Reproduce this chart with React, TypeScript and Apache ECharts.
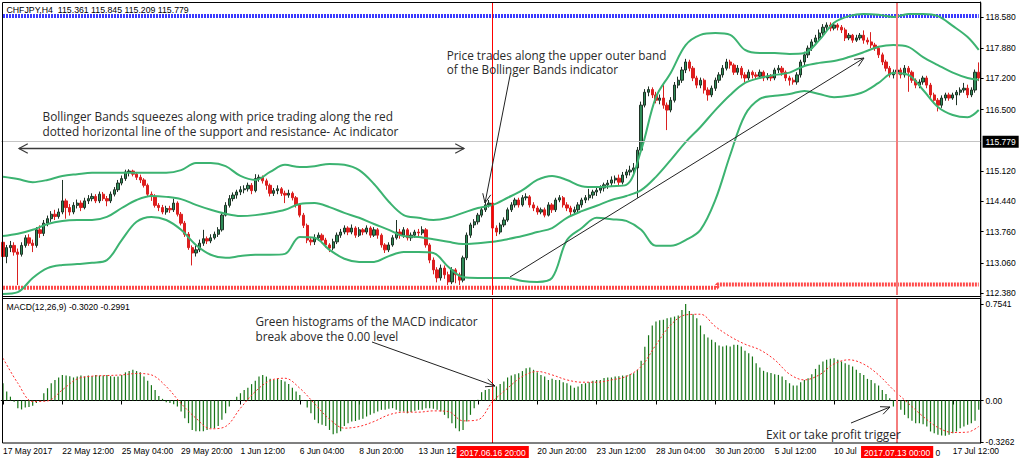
import React, { useEffect, useRef } from 'react';
import * as echarts from 'echarts';

// ---------------- DATA ----------------
// H4 candles: [open, close, low, high]
const ohlc: number[][] = [
  [113.52,113.20,113.12,113.60],[113.20,113.40,113.05,113.46],[113.40,113.45,113.30,113.55],[113.45,113.30,113.22,113.52],
  [113.30,113.25,112.56,113.38],[113.25,113.45,113.20,113.52],[113.45,113.62,113.40,113.68],[113.62,113.50,113.44,113.70],
  [113.50,113.45,113.30,113.58],[113.45,113.80,113.40,113.86],[113.80,113.72,113.62,113.90],[113.72,113.95,113.66,114.02],
  [113.95,114.05,113.88,114.12],[114.05,114.15,113.98,114.22],[114.15,114.10,114.02,114.25],[114.10,114.20,114.05,114.28],
  [114.20,114.45,114.15,114.92],[114.45,114.30,114.05,114.50],[114.30,114.20,114.12,114.38],[114.20,114.35,114.15,114.42],
  [114.35,114.40,114.28,114.48],[114.40,114.30,114.22,114.46],[114.30,114.45,114.26,114.52],[114.45,114.50,114.38,114.58],
  [114.50,114.55,114.44,114.62],[114.55,114.45,114.40,114.60],[114.45,114.60,114.40,114.66],[114.60,114.50,114.45,114.65],
  [114.50,114.45,114.33,114.56],[114.45,114.60,114.40,114.66],[114.60,114.70,114.55,114.76],[114.70,114.85,114.65,114.92],
  [114.85,114.95,114.80,115.02],[114.95,115.10,114.90,115.15],[115.10,115.12,115.00,115.16],[115.12,115.05,115.00,115.15],
  [115.05,114.98,114.92,115.10],[114.98,114.92,114.85,115.04],[114.92,114.80,114.75,114.96],[114.80,114.60,114.55,114.84],
  [114.60,114.55,114.45,114.66],[114.55,114.35,114.30,114.60],[114.35,114.30,114.22,114.40],[114.30,114.20,114.15,114.36],
  [114.20,114.28,114.14,114.34],[114.28,114.25,114.18,114.34],[114.25,114.40,114.20,114.50],[114.40,114.15,114.10,114.44],
  [114.15,113.95,113.90,114.20],[113.95,113.70,113.64,114.00],[113.70,113.40,113.35,113.75],[113.40,113.28,113.00,113.45],
  [113.28,113.35,113.20,113.45],[113.35,113.50,113.30,113.58],[113.50,113.60,113.44,113.80],[113.60,113.55,113.48,113.65],
  [113.55,113.62,113.50,113.70],[113.62,113.70,113.58,113.76],[113.70,113.80,113.64,113.86],[113.80,114.13,113.76,114.18],
  [114.13,114.35,114.10,114.42],[114.35,114.50,114.30,114.58],[114.50,114.58,114.44,114.64],[114.58,114.65,114.50,114.70],
  [114.65,114.70,114.58,114.78],[114.70,114.72,114.62,114.80],[114.72,114.80,114.66,114.86],[114.80,114.68,114.60,114.85],
  [114.68,114.95,114.64,115.05],[114.95,114.98,114.88,115.04],[114.98,114.90,114.84,115.02],[114.90,114.80,114.70,114.95],
  [114.80,114.62,114.55,114.84],[114.62,114.68,114.56,114.74],[114.68,114.72,114.60,114.80],[114.72,114.62,114.56,114.76],
  [114.62,114.58,114.40,114.68],[114.58,114.62,114.52,114.70],[114.62,114.52,114.46,114.66],[114.52,114.36,114.30,114.56],
  [114.36,114.13,114.08,114.40],[114.13,113.90,113.84,114.18],[113.90,113.57,113.50,113.94],[113.57,113.53,113.45,113.64],
  [113.53,113.62,113.46,113.70],[113.62,113.68,113.55,113.74],[113.68,113.57,113.50,113.72],[113.57,113.46,113.40,113.62],
  [113.46,113.39,113.30,113.50],[113.39,113.53,113.34,113.60],[113.53,113.68,113.48,113.74],[113.68,113.75,113.62,113.82],
  [113.75,113.84,113.70,113.90],[113.84,113.75,113.68,113.88],[113.75,113.84,113.70,113.92],[113.84,113.68,113.62,113.88],
  [113.68,113.80,113.64,113.86],[113.80,113.75,113.68,113.84],[113.75,113.84,113.70,113.90],[113.84,113.68,113.62,113.88],
  [113.68,113.80,113.64,113.86],[113.80,113.68,113.60,113.84],[113.68,113.46,113.40,113.72],[113.46,113.35,113.28,113.50],
  [113.35,113.46,113.30,113.52],[113.46,113.62,113.42,113.68],[113.62,113.75,113.58,114.02],[113.75,113.68,113.60,113.82],
  [113.68,113.80,113.62,113.86],[113.80,113.62,113.56,113.84],[113.62,113.68,113.55,113.74],[113.68,113.75,113.62,113.80],
  [113.75,113.73,113.66,113.82],[113.73,113.80,113.68,113.88],[113.80,113.46,113.40,113.84],[113.46,113.12,113.05,113.50],
  [113.12,112.90,112.80,113.18],[112.90,112.72,112.62,112.96],[112.72,112.94,112.66,113.02],[112.94,112.79,112.70,113.00],
  [112.79,112.63,112.56,112.86],[112.63,112.90,112.58,112.96],[112.90,112.79,112.60,112.94],[112.79,112.67,112.56,112.84],
  [112.67,113.17,112.62,113.22],[113.17,113.68,113.12,113.74],[113.68,113.91,113.62,113.96],[113.91,113.98,113.84,114.04],
  [113.98,114.13,113.92,114.18],[114.13,114.25,114.08,114.30],[114.25,114.36,114.20,114.42],[114.36,114.40,114.30,114.47],
  [114.40,113.84,113.78,114.44],[113.84,113.75,113.66,113.90],[113.75,113.91,113.70,113.96],[113.91,114.02,113.86,114.08],
  [114.02,114.25,113.98,114.30],[114.25,114.36,114.20,114.42],[114.36,114.47,114.30,114.52],[114.47,114.36,114.30,114.52],
  [114.36,114.52,114.32,114.58],[114.52,114.54,114.46,114.62],[114.54,114.36,114.30,114.58],[114.36,114.29,114.22,114.42],
  [114.29,114.20,114.14,114.34],[114.20,114.25,114.15,114.30],[114.25,114.13,114.08,114.30],[114.13,114.36,114.10,114.42],
  [114.36,114.25,114.18,114.40],[114.25,114.47,114.20,114.52],[114.47,114.52,114.42,114.58],[114.52,114.36,114.30,114.56],
  [114.36,114.29,114.22,114.42],[114.29,114.20,114.12,114.34],[114.20,114.25,114.14,114.32],[114.25,114.36,114.20,114.42],
  [114.36,114.47,114.30,114.52],[114.47,114.52,114.40,114.58],[114.52,114.58,114.46,114.72],[114.58,114.65,114.50,114.70],
  [114.65,114.69,114.56,114.76],[114.69,114.74,114.62,114.80],[114.74,114.81,114.66,114.86],[114.81,114.85,114.72,114.92],
  [114.85,114.92,114.78,115.00],[114.92,114.96,114.84,115.02],[114.96,114.87,114.80,115.04],[114.87,115.03,114.82,115.10],
  [115.03,115.10,114.96,115.16],[115.10,115.14,115.02,115.24],[115.14,115.19,115.06,115.30],[115.19,115.59,114.52,115.66],
  [115.59,116.60,115.52,116.68],[116.60,116.89,116.55,116.96],[116.89,116.95,116.80,117.02],[116.95,116.83,116.76,117.00],
  [116.83,116.71,116.64,116.90],[116.71,116.76,116.62,116.84],[116.76,116.60,116.52,117.05],[116.60,116.49,116.04,116.66],
  [116.49,116.71,116.44,116.78],[116.71,117.05,116.66,117.12],[117.05,117.16,116.98,117.24],[117.16,117.39,117.10,117.46],
  [117.39,117.57,117.32,117.64],[117.57,117.43,117.36,117.62],[117.43,117.21,117.14,117.48],[117.21,117.05,116.98,117.26],
  [117.05,117.16,116.98,117.22],[117.16,116.94,116.86,117.20],[116.94,116.83,116.70,117.00],[116.83,116.98,116.78,117.04],
  [116.98,117.16,116.92,117.22],[117.16,117.28,117.10,117.34],[117.28,117.43,117.22,117.50],[117.43,117.57,117.38,117.64],
  [117.57,117.50,117.42,117.62],[117.50,117.34,117.28,117.54],[117.34,117.43,117.28,117.50],[117.43,117.28,117.20,117.48],
  [117.28,117.21,117.12,117.34],[117.21,117.34,117.16,117.40],[117.34,117.28,117.20,117.38],[117.28,117.25,117.18,117.34],
  [117.25,117.34,117.20,117.40],[117.34,117.21,117.14,117.38],[117.21,117.25,117.16,117.32],[117.25,117.21,117.14,117.30],
  [117.21,117.39,117.16,117.44],[117.39,117.43,117.32,117.50],[117.43,117.34,117.26,117.48],[117.34,117.21,117.14,117.38],
  [117.21,117.16,117.04,117.26],[117.16,117.12,117.06,117.22],[117.12,117.28,117.06,117.34],[117.28,117.57,117.22,117.62],
  [117.57,117.73,117.50,117.80],[117.73,117.88,117.66,117.94],[117.88,118.02,117.82,118.08],[118.02,118.11,117.96,118.18],
  [118.11,118.22,118.04,118.30],[118.22,118.35,118.16,118.42],[118.35,118.40,118.28,118.46],[118.40,118.33,118.26,118.46],
  [118.33,118.40,118.28,118.46],[118.40,118.35,118.28,118.44],[118.35,118.29,118.22,118.40],[118.29,118.11,118.04,118.34],
  [118.11,118.17,118.06,118.22],[118.17,118.06,118.00,118.20],[118.06,118.11,118.02,118.18],[118.11,118.17,118.06,118.22],
  [118.17,118.06,117.98,118.28],[118.06,118.02,117.96,118.12],[118.02,117.95,117.88,118.24],[117.95,117.88,117.82,118.00],
  [117.88,117.73,117.66,117.92],[117.73,117.57,117.50,117.78],[117.57,117.43,117.36,117.62],[117.43,117.28,117.22,117.48],
  [117.28,117.34,117.20,117.40],[117.34,117.39,117.26,117.44],[117.39,117.28,117.20,117.44],[117.28,117.43,117.22,117.50],
  [117.43,117.34,116.90,117.48],[117.34,117.16,117.10,117.38],[117.16,117.05,116.98,117.20],[117.05,117.12,116.98,117.18],
  [117.12,117.21,117.06,117.26],[117.21,117.05,116.98,117.26],[117.05,116.83,116.76,117.10],[116.83,116.71,116.64,116.88],
  [116.71,116.60,116.46,116.76],[116.60,116.76,116.54,116.82],[116.76,116.83,116.70,116.88],[116.83,116.76,116.70,116.88],
  [116.76,116.83,116.72,116.88],[116.83,116.89,116.60,116.94],[116.89,116.94,116.82,117.00],[116.94,116.98,116.88,117.10],
  [116.98,116.83,116.76,117.06],[116.83,116.94,116.78,117.00],[116.94,117.34,116.88,117.40],[117.34,117.21,117.14,117.56],
];

// Bollinger Bands (20,2) read at every 4th bar (last at 263)
const bandIdx: number[] = [0,4,8,12,16,20,24,28,32,36,40,44,48,52,56,60,64,68,72,76,80,84,88,92,96,100,104,108,112,116,120,124,128,132,136,140,144,148,152,156,160,164,168,172,176,180,184,188,192,196,200,204,208,212,216,220,224,228,232,236,240,244,248,252,256,260,263];
const upperBand: number[] = [114.99,114.94,114.87,114.92,115.01,115.05,115.08,115.08,115.08,115.08,115.08,115.08,115.14,115.30,115.30,115.23,115.01,114.92,115.10,115.26,115.21,115.23,115.28,115.26,115.14,114.83,114.43,114.13,114.07,114.02,114.07,114.18,114.29,114.36,114.52,114.69,114.92,115.01,114.92,114.78,114.76,114.78,114.81,115.59,116.78,117.33,117.95,118.18,118.22,118.18,117.84,117.77,117.77,117.75,117.77,118.06,118.45,118.60,118.65,118.63,118.58,118.65,118.65,118.60,118.38,118.13,117.84];
const middleBand: number[] = [113.66,113.71,113.80,113.93,114.00,114.02,114.02,114.09,114.29,114.47,114.56,114.54,114.49,114.36,114.25,114.16,114.11,114.13,114.18,114.25,114.38,114.40,114.31,114.18,114.07,113.93,113.80,113.66,113.64,113.59,113.53,113.48,113.50,113.53,113.59,113.66,113.75,113.84,114.07,114.22,114.34,114.47,114.56,114.69,114.99,115.37,115.77,116.11,116.49,116.83,117.10,117.21,117.28,117.33,117.48,117.55,117.59,117.68,117.79,117.91,117.95,117.91,117.68,117.50,117.33,117.21,117.17];
const lowerBand: number[] = [112.36,112.40,112.72,112.94,113.01,113.03,113.06,113.12,113.57,113.98,114.09,114.02,113.80,113.46,113.24,113.17,113.21,113.24,113.24,113.26,113.64,113.62,113.35,113.15,113.08,113.08,113.21,113.30,113.30,113.28,112.97,112.74,112.72,112.72,112.72,112.65,112.63,112.72,113.57,113.84,114.07,114.04,114.00,113.80,113.44,113.44,113.57,113.80,114.47,115.48,116.38,116.74,116.81,116.85,116.92,116.85,116.78,116.81,116.90,117.10,117.32,117.28,116.94,116.56,116.38,116.33,116.49];

// MACD(12,26,9) main (histogram), one value per bar
const macdMain: number[] = [
  0.135,0.07,0.03,-0.01,-0.06,-0.07,-0.055,-0.05,-0.04,-0.02,
  0.003,0.057,0.096,0.135,0.16,0.18,0.2,0.195,0.19,0.18,
  0.187,0.195,0.187,0.195,0.19,0.2,0.195,0.195,0.2,0.19,
  0.185,0.187,0.2,0.22,0.23,0.24,0.23,0.22,0.187,0.154,
  0.12,0.083,0.036,0.013,-0.013,-0.02,-0.03,-0.047,-0.086,-0.138,
  -0.177,-0.23,-0.24,-0.24,-0.24,-0.23,-0.216,-0.216,-0.2,-0.15,
  -0.1,-0.047,0.003,0.03,0.057,0.083,0.1,0.128,0.154,0.187,
  0.2,0.187,0.17,0.16,0.17,0.16,0.148,0.128,0.1,0.07,
  0.044,0.003,-0.055,-0.1,-0.15,-0.177,-0.19,-0.2,-0.23,-0.263,
  -0.255,-0.24,
  -0.2,-0.177,-0.164,-0.16,-0.15,-0.143,-0.125,-0.112,-0.1,-0.086,
  -0.073,-0.073,-0.065,-0.06,-0.073,-0.086,-0.086,-0.1,-0.09,-0.08,
  -0.073,-0.073,-0.06,-0.06,-0.065,-0.073,-0.086,-0.112,-0.138,-0.177,
  -0.216,-0.24,-0.23,-0.164,-0.112,-0.06,0.005,0.065,0.083,0.09,
  0.11,0.11,0.128,0.148,0.18,0.195,0.206,0.213,0.23,0.253,
  0.258,0.24,0.22,0.2,0.187,0.16,0.17,0.16,0.16,0.143,
  0.135,0.117,0.1,0.11,0.128,0.135,0.143,0.154,0.16,0.16,
  0.175,0.18,0.18,0.187,0.19,0.195,0.195,0.206,0.213,0.24,
  0.31,0.42,0.51,0.586,0.617,0.628,0.63,0.643,0.648,0.656,
  0.664,
  0.708,0.754,0.70,0.674,0.643,0.586,0.518,0.492,0.474,0.456,
  0.43,0.422,0.43,0.422,0.435,0.435,0.422,0.388,0.37,0.344,
  0.292,0.258,0.232,0.221,0.214,0.206,0.2,0.188,0.161,0.135,
  0.117,0.117,0.143,0.161,0.174,0.206,0.247,0.279,0.305,0.318,
  0.326,0.331,0.318,0.305,0.292,0.279,0.266,0.24,0.214,0.2,
  0.169,0.161,0.135,0.117,0.083,0.05,0.018,-0.047,-0.06,-0.073,
  -0.112,-0.138,-0.159,-0.177,-0.177,-0.185,-0.203,-0.242,-0.255,-0.268,
  -0.273,-0.276,-0.268,-0.255,-0.242,-0.216,-0.203,-0.19,-0.177,-0.159,
  -0.073,
];
// MACD signal line read at the same sample bars as the bands
const macdSignal: number[] = [0.331,0.135,-0.008,-0.003,0.083,0.169,0.19,0.195,0.2,0.211,0.2,0.109,-0.023,-0.138,-0.221,-0.203,-0.06,0.07,0.156,0.174,0.096,-0.026,-0.146,-0.216,-0.203,-0.164,-0.112,-0.091,-0.091,-0.081,-0.086,-0.159,-0.151,-0.008,0.096,0.188,0.227,0.2,0.161,0.143,0.143,0.161,0.188,0.265,0.435,0.591,0.669,0.674,0.578,0.5,0.44,0.396,0.318,0.206,0.161,0.2,0.286,0.318,0.284,0.2,0.083,-0.021,-0.125,-0.211,-0.25,-0.247,-0.203];

// Support / resistance (Ac indicator) levels: [barIndex, price]
const resistanceLevel: number[][] = [[0, 118.60], [263, 118.60]];
const supportLevel: number[][] = [[0, 112.50], [192, 112.50], [193, 112.57], [263, 112.57]];
const currentPrice = 115.779;

// Axis tick labels
const priceTicks: number[] = [112.38, 113.06, 113.76, 114.44, 115.12, 116.5, 117.2, 117.88, 118.58];
const macdTicks: number[] = [-0.3262, 0, 0.7541];
const xTickLabels: string[] = ['17 May 2017','22 May 12:00','25 May 04:00','29 May 20:00','1 Jun 12:00','6 Jun 04:00','8 Jun 20:00','13 Jun 12:00','16 Jun 04:00','20 Jun 20:00','23 Jun 12:00','28 Jun 04:00','30 Jun 20:00','5 Jul 12:00','10 Jul 04:00','12 Jul 20:00','17 Jul 12:00'];
// visible part of the tick labels that sit partly behind the red time markers
const xTickVisible: Record<number, string> = { 7: '13 Jun 12', 8: '', 14: '10 Jul', 15: '' };
const xTickEvery = 16;
const eventBars = [
  { index: 132, label: '2017.06.16 20:00', color: '#ff0000', width: 1 },
  { index: 241, label: '2017.07.13 00:00', color: '#f47d7d', width: 2 },
];

// H4 bar time categories (weekdays only), starting 2017.05.17 20:00
const pad = (n: number) => (n < 10 ? '0' + n : '' + n);
const categories: string[] = [];
{
  let t = Date.UTC(2017, 4, 17, 20);
  while (categories.length < ohlc.length) {
    const d = new Date(t);
    const wd = d.getUTCDay();
    if (wd !== 0 && wd !== 6) {
      categories.push(`${d.getUTCFullYear()}.${pad(d.getUTCMonth() + 1)}.${pad(d.getUTCDate())} ${pad(d.getUTCHours())}:00`);
    }
    t += 4 * 3600 * 1000;
  }
}

// ---------------- ANNOTATIONS (layout) ----------------
const ANNO_FONT = '"Open Sans", "Liberation Sans", sans-serif';
const annoLines = [
  { text: 'Bollinger Bands squeezes along with price trading along the red', x: 42.5, base: 120.7, w: 351 },
  { text: 'dotted horizontal line of the support and resistance- Ac indicator', x: 42.5, base: 135.5, w: 356 },
  { text: 'Price trades along the upper outer band', x: 446.7, base: 59.2, w: 220 },
  { text: 'of the Bollinger Bands indicator', x: 446.7, base: 74, w: 171.5 },
  { text: 'Green histograms of the MACD indicator', x: 255.5, base: 325.7, w: 222.5 },
  { text: 'break above the 0.00 level', x: 255.5, base: 340.7, w: 143 },
  { text: 'Exit or take profit trigger', x: 766, base: 438.3, w: 135 },
];
const arrows = [
  { x1: 510.5, y1: 73, x2: 485, y2: 203 },
  { x1: 510, y1: 277, x2: 864, y2: 58 },
  { x1: 372, y1: 342, x2: 495, y2: 386 },
  { x1: 851, y1: 423, x2: 890, y2: 407 },
];

function measureScale(text: string, font: string, target: number) {
  const c = document.createElement('canvas').getContext('2d');
  if (!c) return 1;
  c.font = font;
  const w = c.measureText(text).width;
  return w > 0 ? target / w : 1;
}

function headPoints(tx: number, ty: number, fx: number, fy: number, len: number, spread: number) {
  const a = Math.atan2(fy - ty, fx - tx);
  return [
    [tx + len * Math.cos(a + spread), ty + len * Math.sin(a + spread)],
    [tx, ty],
    [tx + len * Math.cos(a - spread), ty + len * Math.sin(a - spread)],
  ];
}

export default function App() {
  const ref = useRef<HTMLDivElement>(null);

  useEffect(() => {
    document.body.style.margin = '0';
    if (!ref.current) return;
    const chart = echarts.init(ref.current, undefined, { renderer: 'svg' });

    const axisFont = '"Liberation Sans", Arial, sans-serif';
    const axisSize = 8.5;
    const gridLeft = 1.15;
    const gridWidth = 979.45;

    const graphic: any[] = [];
    // frame
    graphic.push({ type: 'rect', z: 50, silent: true, shape: { x: 2.5, y: 2.5, width: 978.3, height: 440.5 }, style: { fill: 'none', stroke: '#000', lineWidth: 1 } });
    graphic.push({ type: 'line', z: 50, silent: true, shape: { x1: 2.5, y1: 296.5, x2: 981, y2: 296.5 }, style: { stroke: '#000', lineWidth: 1 } });
    graphic.push({ type: 'line', z: 50, silent: true, shape: { x1: 2.5, y1: 298.5, x2: 981, y2: 298.5 }, style: { stroke: '#000', lineWidth: 1 } });

    // headers
    const hdr = [
      { text: 'CHFJPY,H4  115.361 115.845 115.209 115.779', x: 6.5, y: 9.8, w: 182.5 },
      { text: 'MACD(12,26,9) -0.3020 -0.2991', x: 6.5, y: 307.4, w: 123.5 },
    ];
    hdr.forEach((h) => {
      const font = `9px ${axisFont}`;
      graphic.push({
        type: 'text', z: 60, silent: true, x: h.x, y: h.y, scaleX: measureScale(h.text, font, h.w),
        style: { text: h.text, font, fill: '#000', verticalAlign: 'middle', align: 'left' },
      });
    });
    // last digit of the "12 Jul 20:00" tick label, visible right of the red marker
    graphic.push({
      type: 'text', z: 60, silent: true, x: 935.5, y: 452.5,
      style: { text: '0', font: `${axisSize}px ${axisFont}`, fill: '#000', verticalAlign: 'middle', align: 'left' },
    });

    // annotation texts
    annoLines.forEach((a) => {
      const font = `13.5px ${ANNO_FONT}`;
      graphic.push({
        type: 'text', z: 60, silent: true, x: a.x, y: a.base - 4.8, scaleX: measureScale(a.text, font, a.w),
        style: { text: a.text, font, fill: '#2a2a2a', verticalAlign: 'middle', align: 'left' },
      });
    });

    // double-headed horizontal arrow
    graphic.push({ type: 'line', z: 60, silent: true, shape: { x1: 19, y1: 148.5, x2: 464, y2: 148.5 }, style: { stroke: '#3a3a3a', lineWidth: 1.4 } });
    graphic.push({ type: 'polyline', z: 60, silent: true, shape: { points: headPoints(19, 148.5, 464, 148.5, 10, 0.5) }, style: { stroke: '#3a3a3a', fill: 'none', lineWidth: 1.2 } });
    graphic.push({ type: 'polyline', z: 60, silent: true, shape: { points: headPoints(464, 148.5, 19, 148.5, 10, 0.5) }, style: { stroke: '#3a3a3a', fill: 'none', lineWidth: 1.2 } });

    arrows.forEach((a) => {
      graphic.push({ type: 'line', z: 60, silent: true, shape: { x1: a.x1, y1: a.y1, x2: a.x2, y2: a.y2 }, style: { stroke: '#222', lineWidth: 1 } });
      graphic.push({ type: 'polyline', z: 60, silent: true, shape: { points: headPoints(a.x2, a.y2, a.x1, a.y1, 10, 0.42) }, style: { stroke: '#222', fill: 'none', lineWidth: 1 } });
    });

    const bandSeries = (name: string, vals: number[]) => ({
      name, type: 'line', xAxisIndex: 0, yAxisIndex: 0,
      data: bandIdx.map((idx, k) => [idx, vals[k]]),
      smooth: 0.35, symbol: 'none', silent: true, z: 4,
      lineStyle: { color: '#3cb371', width: 2 },
    });

    const option: any = {
      animation: false,
      backgroundColor: '#ffffff',
      grid: [
        { left: gridLeft, top: 2, width: gridWidth, height: 293 },
        { left: gridLeft, top: 298.5, width: gridWidth, height: 144.5 },
      ],
      xAxis: [
        {
          type: 'category', gridIndex: 0, data: categories, boundaryGap: true,
          axisLine: { show: false }, axisTick: { show: false }, axisLabel: { show: false }, splitLine: { show: false },
        },
        {
          type: 'category', gridIndex: 1, data: categories, boundaryGap: true,
          axisLine: { show: true, lineStyle: { color: '#000', width: 1 } },
          axisTick: { show: true, alignWithLabel: true, length: 4, interval: (i: number) => i % xTickEvery === 0, lineStyle: { color: '#000' } },
          axisLabel: {
            show: true, interval: (i: number) => i % xTickEvery === 0, align: 'left', margin: 3,
            fontSize: axisSize, fontFamily: axisFont, color: '#000',
            formatter: (_v: string, i: number) => {
              const k = Math.round(i / xTickEvery);
              return k in xTickVisible ? xTickVisible[k] : xTickLabels[k] || '';
            },
          },
          splitLine: { show: false },
        },
      ],
      yAxis: [
        {
          type: 'value', gridIndex: 0, position: 'right', min: 112.336, max: 118.917,
          axisLine: { show: true, lineStyle: { color: '#000', width: 1 } },
          axisTick: { show: true, length: 3, customValues: priceTicks, lineStyle: { color: '#000' } },
          axisLabel: { show: true, customValues: priceTicks, margin: 5, fontSize: axisSize, fontFamily: axisFont, color: '#000', formatter: (v: number) => v.toFixed(3) },
          splitLine: { show: false },
        },
        {
          type: 'value', gridIndex: 1, position: 'right', min: -0.332, max: 0.797,
          axisLine: { show: true, lineStyle: { color: '#000', width: 1 } },
          axisTick: { show: true, length: 3, customValues: macdTicks, lineStyle: { color: '#000' } },
          axisLabel: { show: true, customValues: macdTicks, margin: 5, fontSize: axisSize, fontFamily: axisFont, color: '#000', formatter: (v: number) => (v === 0 ? '0.00' : v.toFixed(4)) },
          splitLine: { show: false },
        },
      ],
      series: [
        {
          name: 'Resistance', type: 'line', xAxisIndex: 0, yAxisIndex: 0, data: resistanceLevel,
          symbol: 'none', silent: true, z: 2, lineStyle: { color: '#3a3aff', width: 4, type: [2, 1] },
        },
        {
          name: 'Support', type: 'line', xAxisIndex: 0, yAxisIndex: 0, data: supportLevel, step: 'middle',
          symbol: 'none', silent: true, z: 2, lineStyle: { color: '#ff4a4a', width: 4, type: [2, 1] },
        },
        {
          name: 'CHFJPY', type: 'candlestick', xAxisIndex: 0, yAxisIndex: 0, data: ohlc, barWidth: 2.8, z: 3,
          itemStyle: { color: '#2e8b57', color0: '#e31b1b', borderColor: '#1f3326', borderColor0: '#d92020', borderWidth: 1 },
          markLine: {
            silent: true, symbol: ['none', 'none'], animation: false,
            data: [
              { yAxis: currentPrice, lineStyle: { color: '#c4c4c4', width: 1, type: 'solid' },
                label: { show: true, position: 'end', formatter: currentPrice.toFixed(3), color: '#fff', backgroundColor: '#000', padding: [2, 3, 1, 3], fontSize: axisSize, fontFamily: axisFont, distance: 2 } },
              ...eventBars.map((e) => ({ xAxis: e.index, lineStyle: { color: e.color, width: e.width, type: 'solid' }, label: { show: false } })),
            ],
          },
        },
        bandSeries('Upper band', upperBand),
        bandSeries('Middle band', middleBand),
        bandSeries('Lower band', lowerBand),
        {
          name: 'MACD', type: 'bar', xAxisIndex: 1, yAxisIndex: 1, data: macdMain, barWidth: 1.2, silent: true,
          itemStyle: { color: '#167516' },
          markLine: {
            silent: true, symbol: ['none', 'none'], animation: false,
            data: eventBars.map((e) => ({
              xAxis: e.index, lineStyle: { color: e.color, width: e.width, type: 'solid' },
              label: { show: true, position: 'start', formatter: e.label, color: '#fff', backgroundColor: '#ff0000', padding: [2, 3, 1, 3], fontSize: axisSize, fontFamily: axisFont, distance: 3 },
            })),
          },
        },
        {
          name: 'Signal', type: 'line', xAxisIndex: 1, yAxisIndex: 1,
          data: bandIdx.map((idx, k) => [idx, macdSignal[k]]),
          smooth: 0.35, symbol: 'none', silent: true, z: 4,
          lineStyle: { color: '#ff2b2b', width: 1, type: [2, 2] },
        },
      ],
      graphic,
    };

    chart.setOption(option);
    return () => chart.dispose();
  }, []);

  return <div ref={ref} style={{ width: 1020, height: 464 }} />;
}
